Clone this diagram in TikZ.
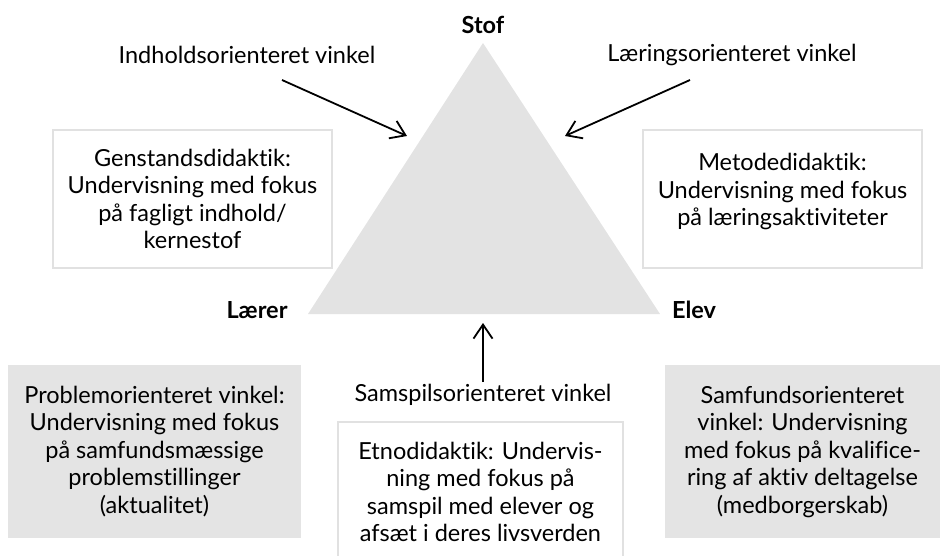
\documentclass[tikz,border=0pt]{standalone}
\usepackage{fontspec}
\setmainfont{Lato}[Ligatures=NoCommon]
\usetikzlibrary{arrows.meta}
\definecolor{trianglecol}{HTML}{E3E3E3}
\definecolor{framecol}{HTML}{E1E1E1}
\definecolor{shadecol}{HTML}{E4E4E4}

\begin{document}
\begin{tikzpicture}[
  x=1pt, y=-1pt, >={Straight Barb[length=14pt,width=19pt]},
  font=\fontsize{23.5}{27.5}\selectfont,
  corner/.style={font=\fontsize{23.5}{27.5}\selectfont\bfseries},
  vinkel/.style={inner sep=2pt},
  framebox/.style={draw=framecol, line width=1.6pt, fill=white, align=center, inner sep=0pt},
  shadebox/.style={fill=shadecol, align=center, inner sep=0pt},
  pil/.style={->, line width=1.8pt}
]
\useasboundingbox (0,0) rectangle (948,556);

% triangle
\coordinate (stofpt) at (483,43);
\coordinate (laererpt) at (308,314);
\coordinate (elevpt) at (660,314);
\fill[trianglecol] (stofpt) -- (laererpt) -- (elevpt) -- cycle;

\node[corner] (stof) at (483,25) {Stof};
\node[corner] (laerer) at (257,310) {Lærer};
\node[corner] (elev) at (694,310) {Elev};

% angles
\node[vinkel] (indhold) at (247,55) {Indholdsorienteret vinkel};
\node[vinkel] (laering) at (732,55) {Læringsorienteret vinkel};
\node[vinkel] (samspil) at (483,395) {Samspilsorienteret vinkel};

\coordinate (indholdfra) at (282,80);
\coordinate (indholdtil) at (407,136);
\coordinate (laeringfra) at (690,80);
\coordinate (laeringtil) at (565,136);
\coordinate (samspiltil) at (483,323);
\draw[pil] (indholdfra) -- (indholdtil);
\draw[pil] (laeringfra) -- (laeringtil);
\draw[pil] (samspil.north) -- (samspiltil);

% boxes
\node[framebox, minimum width=279pt, minimum height=138pt] (genstand) at (192.5,199)
  {Genstandsdidaktik:\\Undervisning med fokus\\på fagligt indhold/\\kernestof};
\node[framebox, minimum width=279pt, minimum height=138pt] (metode) at (782.5,199) {};
\node[align=center, inner sep=0pt] (metodetxt) at (782.5,191.5)
  {Metodedidaktik:\\Undervisning med fokus\\på læringsaktiviteter};

\node[shadebox, minimum width=293pt, minimum height=173pt] (problem) at (154.5,451.5)
  {Problemorienteret vinkel:\\Undervisning med fokus\\på samfundsmæssige\\problemstillinger\\(aktualitet)};
\node[shadebox, minimum width=275pt, minimum height=173pt] (samfund) at (802.5,451.5)
  {Samfundsorienteret\\vinkel: Undervisning\\med fokus på kvalifice-\\ring af aktiv deltagelse\\(medborgerskab)};
\node[framebox, minimum width=285pt, minimum height=140pt] (etno) at (480.5,492)
  {Etnodidaktik: Undervis-\\ning med fokus på\\samspil med elever og\\afsæt i deres livsverden};
\end{tikzpicture}
\end{document}
